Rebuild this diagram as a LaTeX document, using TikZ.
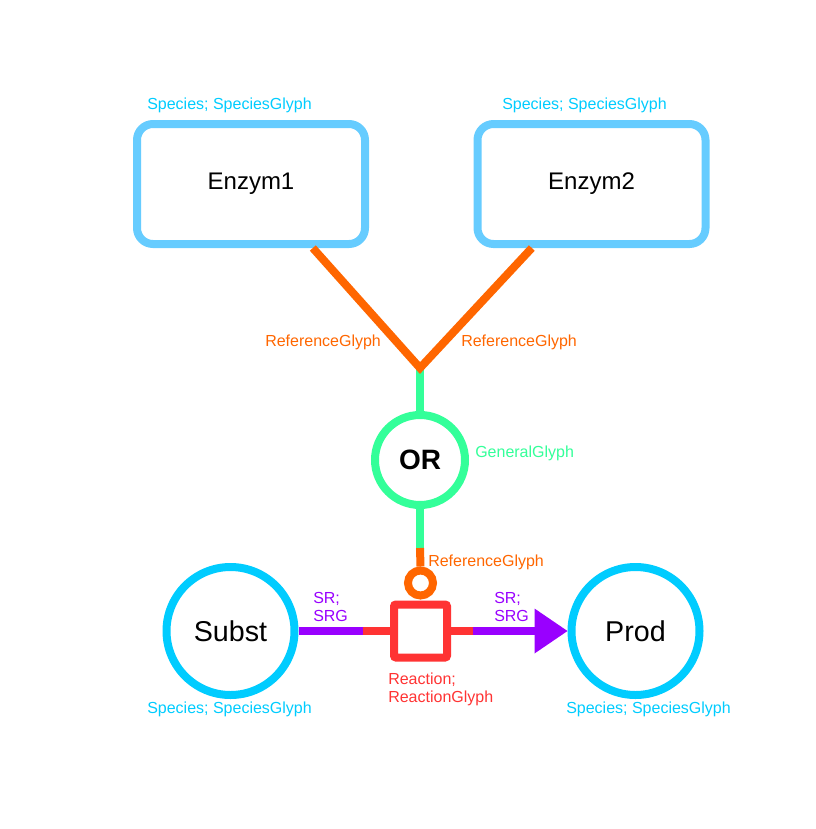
\documentclass[tikz,border=0pt]{standalone}
\usepackage{fontspec}
\setmainfont{Liberation Sans}
\usetikzlibrary{arrows.meta}
\definecolor{boxblue}{RGB}{102,204,255}
\definecolor{spcyan}{RGB}{0,204,255}
\definecolor{reforange}{RGB}{255,102,0}
\definecolor{gengreen}{RGB}{51,255,153}
\definecolor{rxnred}{RGB}{255,51,51}
\definecolor{srpurple}{RGB}{153,0,255}
\begin{document}
\begin{tikzpicture}
[x=0.75pt, y=-0.75pt,
  glyph/.style={line width=6pt, fill=white, inner sep=0pt},
  species/.style={glyph, draw=boxblue, rounded corners=12pt, minimum width=171pt,
                  minimum height=90pt, font=\fontsize{18}{20}\selectfont},
  pool/.style={glyph, circle, draw=spcyan, minimum size=96pt, font=\fontsize{21.5}{24}\selectfont},
  logic/.style={glyph, circle, draw=gengreen, minimum size=67.5pt, font=\fontsize{21}{24}\selectfont\bfseries},
  port/.style={glyph, circle, draw=reforange, minimum size=18.75pt},
  reaction/.style={glyph, draw=rxnred, rounded corners=1.5pt, minimum size=39.75pt},
  refline/.style={line width=6pt, draw=reforange},
  genline/.style={line width=6pt, draw=gengreen},
  rxnline/.style={line width=6pt, draw=rxnred},
  srline/.style={line width=6pt, draw=srpurple},
  lbl/.style={inner sep=0pt, font=\fontsize{12}{13.5}\selectfont}]
  \useasboundingbox (0,0) rectangle (816,829);
  % glyphs
  \node[species] (enzA) at (251,184) {Enzym1};
  \node[species] (enzB) at (591.5,184) {Enzym2};
  \node[logic] (orGate) at (420,460) {OR};
  \node[port] (orPort) at (420.5,583) {};
  \node[reaction] (rxn) at (420.5,631) {};
  \node[pool] (subst) at (230.5,631) {Subst};
  \node[pool] (prod) at (635.5,631) {Prod};
  \coordinate (junc) at (420,368);
  \coordinate (gap) at (420,548);
  \coordinate (lstub) at (363,631);
  \coordinate (rstub) at (473,631);
  % connectors
  \draw[genline] (junc) -- (orGate.north);
  \draw[genline] (orGate.south) -- (gap);
  \draw[refline] (gap) -- (orPort.north);
  \draw[refline, line join=miter] (enzA.-46.4) -- (junc) -- (enzB.-133.5);
  \draw[rxnline] (rxn.west) -- (lstub);
  \draw[rxnline] (rxn.east) -- (rstub);
  \draw[srline] (subst.east) -- (lstub);
  \draw[srline, -{Triangle[length=24.75pt, width=33.75pt, line width=0pt]}] (rstub) -- (prod.west);
  % labels
  \node[lbl, text=spcyan, anchor=base west] (lblA) at (147,109) {Species; SpeciesGlyph};
  \node[lbl, text=spcyan, anchor=base west] (lblB) at (502,109) {Species; SpeciesGlyph};
  \node[lbl, text=spcyan, anchor=base west] (lblS) at (147,713) {Species; SpeciesGlyph};
  \node[lbl, text=spcyan, anchor=base west] (lblP) at (566,713) {Species; SpeciesGlyph};
  \node[lbl, text=reforange, anchor=base west] (refA) at (265,346) {ReferenceGlyph};
  \node[lbl, text=reforange, anchor=base west] (refB) at (461,346) {ReferenceGlyph};
  \node[lbl, text=reforange, anchor=base west] (refC) at (428,566) {ReferenceGlyph};
  \node[lbl, text=gengreen, anchor=base west] (genLbl) at (475,457) {GeneralGlyph};
  \node[lbl, text=srpurple, anchor=north west, align=left] (srA) at (313,592) {SR;\\SRG};
  \node[lbl, text=srpurple, anchor=north west, align=left] (srB) at (494,592) {SR;\\SRG};
  \node[lbl, text=rxnred, anchor=north west, align=left] (rxnLbl) at (388,673) {Reaction;\\ReactionGlyph};
\end{tikzpicture}
\end{document}
